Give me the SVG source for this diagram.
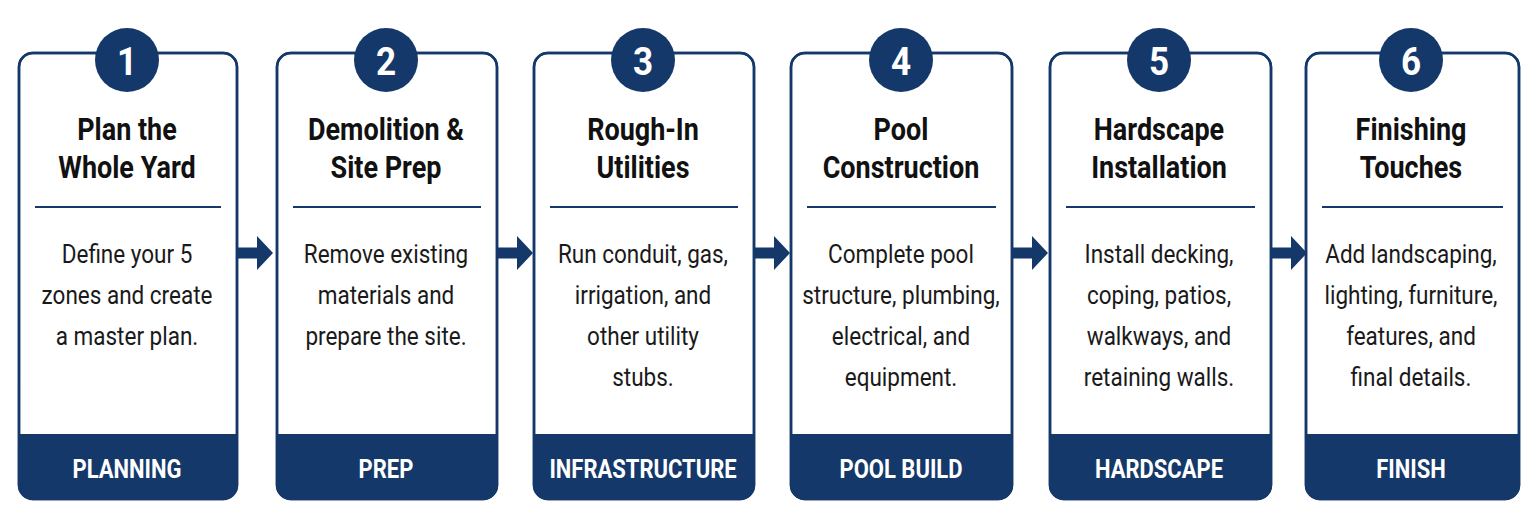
<svg xmlns="http://www.w3.org/2000/svg" width="1536" height="527" viewBox="0 0 1536 527">
<style>
.card{fill:#ffffff;stroke:#15386a;stroke-width:2.5}
.edge{fill:none;stroke:#15386a;stroke-width:2.5}
.band{fill:#15386a}
.circ{fill:#15386a}
.div{stroke:#15386a;stroke-width:2}
.num{font-family:Roboto,"Liberation Sans",sans-serif;font-weight:700;font-size:39px;fill:#ffffff;text-anchor:middle;transform:scaleX(0.9)}
.title{font-family:Roboto,"Liberation Sans",sans-serif;font-weight:700;font-size:31px;fill:#111111;text-anchor:middle;transform:scaleX(0.87)}
.body{font-family:Roboto,"Liberation Sans",sans-serif;font-size:25px;fill:#1a1a1a;text-anchor:middle;transform:scaleX(0.9)}
.lab{font-family:Roboto,"Liberation Sans",sans-serif;font-weight:700;font-size:25px;fill:#ffffff;text-anchor:middle;transform:scaleX(0.88)}
.arrow{fill:#15386a}
</style>
<rect width="1536" height="527" fill="#ffffff"/>
<defs>
<path id="arr" d="M0,-5.5 H20 V-17 L36,0 L20,17 V5.5 H0 Z"/>
</defs>
<g id="connectors">
<use href="#arr" class="arrow" x="237" y="253"/>
<use href="#arr" class="arrow" x="497" y="253"/>
<use href="#arr" class="arrow" x="754" y="253"/>
<use href="#arr" class="arrow" x="1012" y="253"/>
<use href="#arr" class="arrow" x="1271" y="253"/>
</g>
<g id="step1">
<rect class="card" x="19" y="53" width="218" height="446" rx="14"/>
<path class="band" d="M19,434 H237 V485 A14,14 0 0 1 223,499 H33 A14,14 0 0 1 19,485 Z"/>
<rect class="edge" x="19" y="53" width="218" height="446" rx="14"/>
<circle class="circ" cx="127" cy="60" r="32"/>
<line class="div" x1="35" y1="207" x2="221" y2="207"/>
<g transform="translate(127,0)">
<text class="num" x="0" y="75">1</text>
<text class="title" x="0" y="140">Plan the</text>
<text class="title" x="0" y="178">Whole Yard</text>
<text class="body" x="0" y="263">Define your 5</text>
<text class="body" x="0" y="304">zones and create</text>
<text class="body" x="0" y="345">a master plan.</text>
<text class="lab" x="0" y="478">PLANNING</text>
</g>
</g>
<g id="step2">
<rect class="card" x="277" y="53" width="220" height="446" rx="14"/>
<path class="band" d="M277,434 H497 V485 A14,14 0 0 1 483,499 H291 A14,14 0 0 1 277,485 Z"/>
<rect class="edge" x="277" y="53" width="220" height="446" rx="14"/>
<circle class="circ" cx="386" cy="60" r="32"/>
<line class="div" x1="293" y1="207" x2="481" y2="207"/>
<g transform="translate(386,0)">
<text class="num" x="0" y="75">2</text>
<text class="title" x="0" y="140">Demolition &amp;</text>
<text class="title" x="0" y="178">Site Prep</text>
<text class="body" x="0" y="263">Remove existing</text>
<text class="body" x="0" y="304">materials and</text>
<text class="body" x="0" y="345">prepare the site.</text>
<text class="lab" x="0" y="478">PREP</text>
</g>
</g>
<g id="step3">
<rect class="card" x="534" y="53" width="220" height="446" rx="14"/>
<path class="band" d="M534,434 H754 V485 A14,14 0 0 1 740,499 H548 A14,14 0 0 1 534,485 Z"/>
<rect class="edge" x="534" y="53" width="220" height="446" rx="14"/>
<circle class="circ" cx="643" cy="60" r="32"/>
<line class="div" x1="550" y1="207" x2="738" y2="207"/>
<g transform="translate(643,0)">
<text class="num" x="0" y="75">3</text>
<text class="title" x="0" y="140">Rough-In</text>
<text class="title" x="0" y="178">Utilities</text>
<text class="body" x="0" y="263">Run conduit, gas,</text>
<text class="body" x="0" y="304">irrigation, and</text>
<text class="body" x="0" y="345">other utility</text>
<text class="body" x="0" y="386">stubs.</text>
<text class="lab" x="0" y="478">INFRASTRUCTURE</text>
</g>
</g>
<g id="step4">
<rect class="card" x="791" y="53" width="221" height="446" rx="14"/>
<path class="band" d="M791,434 H1012 V485 A14,14 0 0 1 998,499 H805 A14,14 0 0 1 791,485 Z"/>
<rect class="edge" x="791" y="53" width="221" height="446" rx="14"/>
<circle class="circ" cx="901" cy="60" r="32"/>
<line class="div" x1="807" y1="207" x2="996" y2="207"/>
<g transform="translate(901,0)">
<text class="num" x="0" y="75">4</text>
<text class="title" x="0" y="140">Pool</text>
<text class="title" x="0" y="178">Construction</text>
<text class="body" x="0" y="263">Complete pool</text>
<text class="body" x="0" y="304">structure, plumbing,</text>
<text class="body" x="0" y="345">electrical, and</text>
<text class="body" x="0" y="386">equipment.</text>
<text class="lab" x="0" y="478">POOL BUILD</text>
</g>
</g>
<g id="step5">
<rect class="card" x="1050" y="53" width="221" height="446" rx="14"/>
<path class="band" d="M1050,434 H1271 V485 A14,14 0 0 1 1257,499 H1064 A14,14 0 0 1 1050,485 Z"/>
<rect class="edge" x="1050" y="53" width="221" height="446" rx="14"/>
<circle class="circ" cx="1159" cy="60" r="32"/>
<line class="div" x1="1066" y1="207" x2="1255" y2="207"/>
<g transform="translate(1159,0)">
<text class="num" x="0" y="75">5</text>
<text class="title" x="0" y="140">Hardscape</text>
<text class="title" x="0" y="178">Installation</text>
<text class="body" x="0" y="263">Install decking,</text>
<text class="body" x="0" y="304">coping, patios,</text>
<text class="body" x="0" y="345">walkways, and</text>
<text class="body" x="0" y="386">retaining walls.</text>
<text class="lab" x="0" y="478">HARDSCAPE</text>
</g>
</g>
<g id="step6">
<rect class="card" x="1306" y="53" width="213" height="446" rx="14"/>
<path class="band" d="M1306,434 H1519 V485 A14,14 0 0 1 1505,499 H1320 A14,14 0 0 1 1306,485 Z"/>
<rect class="edge" x="1306" y="53" width="213" height="446" rx="14"/>
<circle class="circ" cx="1411" cy="60" r="32"/>
<line class="div" x1="1322" y1="207" x2="1503" y2="207"/>
<g transform="translate(1411,0)">
<text class="num" x="0" y="75">6</text>
<text class="title" x="0" y="140">Finishing</text>
<text class="title" x="0" y="178">Touches</text>
<text class="body" x="0" y="263">Add landscaping,</text>
<text class="body" x="0" y="304">lighting, furniture,</text>
<text class="body" x="0" y="345">features, and</text>
<text class="body" x="0" y="386">final details.</text>
<text class="lab" x="0" y="478">FINISH</text>
</g>
</g>
</svg>
